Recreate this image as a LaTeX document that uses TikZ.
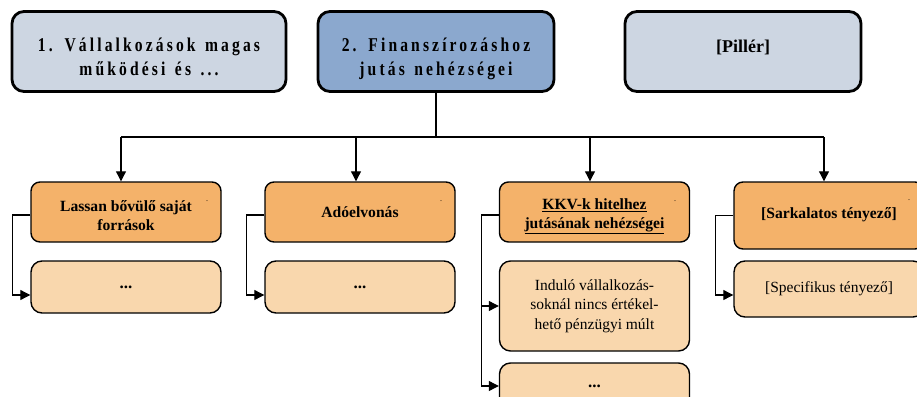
\documentclass[tikz,border=0pt]{standalone}
\usepackage{fontspec}
\setmainfont{Liberation Serif}
\newfontfamily\pillarfont[LetterSpace=16,FakeStretch=0.8,WordSpace=1.35]{Liberation Serif}
\usetikzlibrary{arrows.meta}

\definecolor{pillarpale}{HTML}{CDD6E2}
\definecolor{pillarblue}{HTML}{8BA8CE}
\definecolor{factororange}{HTML}{F4B26A}
\definecolor{detailpeach}{HTML}{F9D7AD}

% centred stack of lines, moved vertically without changing its size
\newcommand\movedlines[2]{\raisebox{#1}[\height][\depth]{\begin{tabular}{@{}c@{}}#2\end{tabular}}}

\tikzset{
  pillar/.style={draw=black, line width=2.8pt, rounded corners=12pt,
    minimum width=274pt, minimum height=80pt, align=center,
    font=\pillarfont\bfseries\fontsize{19.5}{24}\selectfont},
  factor/.style={draw=black, line width=1.4pt, rounded corners=9pt, fill=factororange,
    minimum width=190pt, minimum height=60pt, align=center,
    font=\bfseries\fontsize{15.6}{19.5}\selectfont},
  detail/.style={draw=black, line width=1.4pt, rounded corners=11pt, fill=detailpeach,
    minimum width=190pt, align=center, font=\fontsize{15.5}{19.3}\selectfont},
  dots/.style={font=\bfseries\fontsize{17}{19}\selectfont},
  link/.style={line width=1.1pt},
  arr/.style={line width=1.1pt, -{Triangle[length=10pt,width=10pt]}},
  stray/.style={font=\fontsize{8}{8}\selectfont, inner sep=0pt}
}

\begin{document}
\begin{tikzpicture}[x=1pt,y=-1pt]
\useasboundingbox (0,0) rectangle (917,396);

% pillars
\node[pillar, fill=pillarpale] (p1) at (149,51.5)
  {\movedlines{-7pt}{1. Vállalkozások magas\\működési és ...}};
\node[pillar, fill=pillarblue, minimum width=236pt] (p2) at (436,51.5)
  {\movedlines{-7pt}{2. Finanszírozáshoz\\jutás nehézségei}};
\node[pillar, fill=pillarpale, minimum width=236pt,
      font=\bfseries\fontsize{18}{22}\selectfont] (p3) at (743,51.5)
  {\movedlines{3pt}{[Pillér]}};

% factors
\node[factor] (fa) at (126,212) {\movedlines{-5pt}{Lassan bővülő saját\\források}};
\node[factor] (fb) at (360,212) {Adóelvonás};
\node[factor] (fc) at (594.5,212) {\movedlines{-3pt}{\underline{KKV-k hitelhez}\\\underline{jutásának nehézségei}}};
\node[factor, minimum height=67pt] (fd) at (829,215.5) {\movedlines{1pt}{[Sarkalatos tényező]}};

% stray marks
\node[stray] (sa) at (207,201) {.};
\node[stray] (sb) at (441,201) {.};
\node[stray] (sc) at (675,201) {.};
\node[stray] (sd) at (909,200) {.};

% details
\node[detail, minimum height=52pt, dots] (da) at (126,287) {...};
\node[detail, minimum height=52pt, dots] (db) at (360,287) {...};
\node[detail, minimum height=90pt] (dc1) at (594.5,306) {Induló vállalkozás-\\soknál nincs értékel-\\hető pénzügyi múlt};
\node[detail, minimum height=46pt, dots] (dc2) at (594.5,386) {...};
\node[detail, minimum height=56pt] (dd) at (829,289) {[Specifikus tényező]};

% tree from the second pillar
\coordinate (bus) at (436,137);
\draw[link] (p2.south) -- (bus);
\draw[link] ([xshift=-5pt]fa.north |- bus) -- ([xshift=-5pt]fd.north |- bus);
\draw[arr] ([xshift=-5pt]fa.north |- bus) -- ([xshift=-5pt]fa.north);
\draw[arr] ([xshift=-4pt]fb.north |- bus) -- ([xshift=-4pt]fb.north);
\draw[arr] ([xshift=-4.5pt]fc.north |- bus) -- ([xshift=-4.5pt]fc.north);
\draw[arr] ([xshift=-5pt]fd.north |- bus) -- ([xshift=-5pt]fd.north);

% factor to detail connectors
\draw[arr] ([yshift=-3pt]fa.west) -| ++(-18,0) |- ([yshift=-8pt]da.west);
\draw[arr] ([yshift=-3pt]fb.west) -| ++(-18,0) |- ([yshift=-8pt]db.west);
\draw[arr] ([yshift=-3pt]fc.west) -| ++(-17.5,0) |- (dc1.west);
\draw[arr] ([xshift=-17.5pt,yshift=-3pt]fc.west) |- (dc2.west);
\draw[arr] (fd.west) -| ++(-18,0) |- ([yshift=-6pt]dd.west);
\end{tikzpicture}
\end{document}
